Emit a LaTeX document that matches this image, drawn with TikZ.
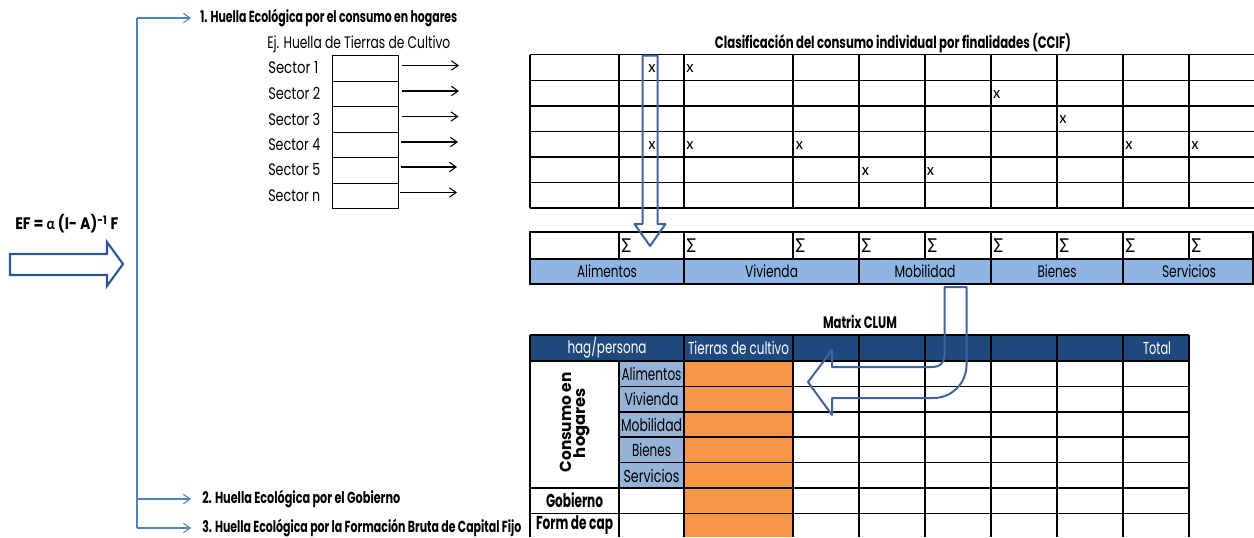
\documentclass[tikz,border=0pt]{standalone}
\usepackage{fontspec}
\setmainfont{Poppins}
\newfontfamily\calib{Carlito}
\usepackage{graphicx}
\usetikzlibrary{arrows.meta}
\definecolor{hdrblue}{HTML}{1F497D}
\definecolor{lblue}{HTML}{8DB4E2}
\definecolor{lblueb}{HTML}{95B3D7}
\definecolor{orng}{HTML}{F79646}
\definecolor{arrblue}{HTML}{41659A}
\definecolor{brblue}{HTML}{4F81BD}
\definecolor{efblue}{HTML}{2F5597}
\newlength\pxu \setlength\pxu{0.75pt}
\newcommand\fitw[2]{\resizebox{#1\pxu}{\height}{#2}}
\begin{document}
\begin{tikzpicture}[x=0.75pt,y=-0.75pt,
  txt/.style={inner sep=0pt, font=\fontsize{12.5}{14}\selectfont},
  btxt/.style={inner sep=0pt, font=\fontsize{12}{14}\selectfont\bfseries},
  htxt/.style={inner sep=0pt, font=\fontsize{12.5}{14}\selectfont\bfseries},
  wtxt/.style={inner sep=0pt, text=white, font=\fontsize{13}{15}\selectfont},
  tbl/.style={line width=1pt, draw=black},
  ttbl/.style={line width=1.6pt, draw=black},
  brarrow/.style={draw=brblue, line width=0.8pt, -{Straight Barb[length=5pt,width=7pt]}},
  sarrow/.style={draw=black, line width=0.8pt, -{Straight Barb[length=5pt,width=7pt]}},
  blockarrow/.style={draw=arrblue, line width=1.5pt, line join=round},
  xmk/.style={inner sep=0pt, font=\calib\fontsize{12.5}{14}\selectfont},
  sig/.style={inner sep=0pt, anchor=west, font=\calib\fontsize{16}{18}\selectfont},
  sbox/.style={draw, line width=1pt, minimum width=49.5pt, minimum height=19.125pt, inner sep=0pt, anchor=north west}
  ]
\fill[white] (0,0) rectangle (1254,537);
\useasboundingbox (0,0) rectangle (1254,537);

% ---------- left formula and arrow ----------
\node[htxt, anchor=west] (ef) at (15,224) {\fitw{103}{EF = {\calib α} (I- A)\textsuperscript{-1} F}};
\draw[draw=efblue, line width=1.6pt, line join=miter] (10,254) -- (107,254) -- (107,242) -- (123,264) -- (107,286) -- (107,275) -- (10,275) -- cycle;

% ---------- bracket ----------
\coordinate (bt) at (137,18);
\coordinate (bm) at (137,499);
\coordinate (bb) at (137,528);
\draw[brblue, line width=0.8pt] (bt) -- (bb);
\node[btxt, anchor=west] (t1) at (200,18) {\fitw{257}{1. Huella Ecológica por el consumo en hogares}};
\node[btxt, anchor=west] (t2) at (202,499) {\fitw{198}{2. Huella Ecológica por el Gobierno}};
\node[btxt, anchor=west] (t3) at (202,528) {\fitw{319}{3. Huella Ecológica por la Formación Bruta de Capital Fijo}};
\draw[brarrow, shorten >=6.75pt] (bt) -- (t1.west);
\draw[brarrow, shorten >=8.25pt] (bm) -- (t2.west);
\draw[brarrow, shorten >=8.25pt] (bb) -- (t3.west);

% ---------- sectors ----------
\node[txt, anchor=west] (ej) at (267,44) {\fitw{183}{Ej. Huella de Tierras de Cultivo}};
\foreach \lab/\w/\y [count=\i] in {Sector 1/50/68, Sector 2/52/93.5, Sector 3/52/119, Sector 4/52/144.5, Sector 5/52/170, Sector n/52/195.5}
  \node[txt, anchor=west] (s\i) at (268,\y) {\fitw{\w}{\lab}};
\foreach \y [count=\i] in {55,80.5,106,131.5,157,182.5}
  \node[sbox] (b\i) at (332,\y) {};
\foreach \y/\xs/\xe [count=\i] in {65.5/402/459, 91/402/459, 116.5/401.5/458.5, 142/401/458, 167/400.5/457, 192.5/400/457}{
  \coordinate (as\i) at (\xs,\y);
  \coordinate (ae\i) at (\xe,\y);
  \draw[sarrow] (as\i) -- (ae\i);
}

% ---------- CCIF table ----------
\node[htxt] (ccif) at (893,43.5) {\fitw{356}{Clasificación del consumo individual por finalidades (CCIF)}};
\foreach \y in {54.5,80.5,106,131.5,157,182.5,208}
  \draw[tbl] (530,\y) -- (1254,\y);
\foreach \x in {530,619,684,793,859,925,991,1057,1123,1189}
  \draw[tbl] (\x,54.5) -- (\x,208);
\foreach \p [count=\i] in {(652,69),(690,69),(996.7,95),(1063,120),(652,146),(690,146),(799.4,146),(1129,146),(1195,146),(865.5,171.7),(930.5,171.7)}
  \node[xmk] (xm\i) at \p {x};

% ---------- sum table ----------
\fill[lblue] (530,259) rectangle (1253,284);
\draw[ttbl] (530,232) rectangle (1253,284);
\draw[ttbl] (530,259) -- (1253,259);
\foreach \x in {619,793,925,1057,1189}
  \draw[tbl] (\x,232) -- (\x,259);
\foreach \x in {684,859,991,1123}
  \draw[ttbl] (\x,232) -- (\x,284);
\foreach \x [count=\i] in {621,686,795,861,927,993,1059,1125,1191}
  \node[sig] (sg\i) at (\x,246) {Σ};
\foreach \lab/\w/\x [count=\i] in {Alimentos/60/607, Vivienda/53/771.5, Mobilidad/61/925, Bienes/39/1057, Servicios/54/1189}
  \node[txt] (cat\i) at (\x,271.5) {\fitw{\w}{\lab}};

% down arrow
\draw[blockarrow] (642.5,55.5) -- (657.5,55.5) -- (657.5,224) -- (665.5,224) -- (650,246) -- (634.5,224) -- (642.5,224) -- cycle;

% ---------- CLUM matrix ----------
\node[htxt] (clum) at (860,322) {\fitw{74}{Matrix CLUM}};
\fill[hdrblue] (530,335) rectangle (1189,361);
\fill[lblueb] (619,361) rectangle (684,488);
\fill[orng] (684,361) rectangle (793,537);
\draw[tbl] (530,335) -- (1189,335);
\draw[tbl] (530,361) -- (1189,361);
\foreach \y in {386.5,412,437,462.5}
  \draw[tbl] (619,\y) -- (1189,\y);
\foreach \y in {488,513.5}
  \draw[tbl] (530,\y) -- (1189,\y);
\draw[tbl] (530,335) -- (530,537);
\draw[tbl] (619,361) -- (619,537);
\foreach \x in {684,793,859,925,991,1057,1123,1189}
  \draw[tbl] (\x,335) -- (\x,537);
\node[wtxt] (h1) at (607,348) {\fitw{79}{hag/persona}};
\node[wtxt] (h2) at (738.5,348) {\fitw{101}{Tierras de cultivo}};
\node[wtxt] (h3) at (1157,348) {\fitw{28}{Total}};
\foreach \lab/\w/\y [count=\i] in {Alimentos/60/373.5, Vivienda/54/399, Mobilidad/61/424.5, Bienes/39/450, Servicios/56/475.5}
  \node[txt, font=\fontsize{13}{15}\selectfont] (sl\i) at (651.5,\y) {\fitw{\w}{\lab}};
\node[htxt, font=\fontsize{12}{14}\selectfont\bfseries, rotate=90] (cons1) at (565.5,422.5) {\fitw{100}{Consumo en}};
\node[htxt, font=\fontsize{12}{14}\selectfont\bfseries, rotate=90] (cons2) at (582,423) {\fitw{70}{hogares}};
\node[htxt, font=\fontsize{14}{16}\selectfont\bfseries] (gob) at (574.5,500.5) {\fitw{57}{Gobierno}};
\node[htxt, font=\fontsize{14}{16}\selectfont\bfseries] (fcap) at (574.5,525.5) {\fitw{77}{Form de cap}};

% bent arrow
\draw[blockarrow] (944.5,287) -- (966.5,287) -- (966.5,365)
  .. controls (966.5,383.2) and (951.7,398) .. (933.5,398)
  -- (832,398) -- (832,415) -- (808,382) -- (832,350) -- (832,367) -- (933.5,367)
  .. controls (939.6,367) and (944.5,362.1) .. (944.5,356) -- cycle;
\end{tikzpicture}
\end{document}
